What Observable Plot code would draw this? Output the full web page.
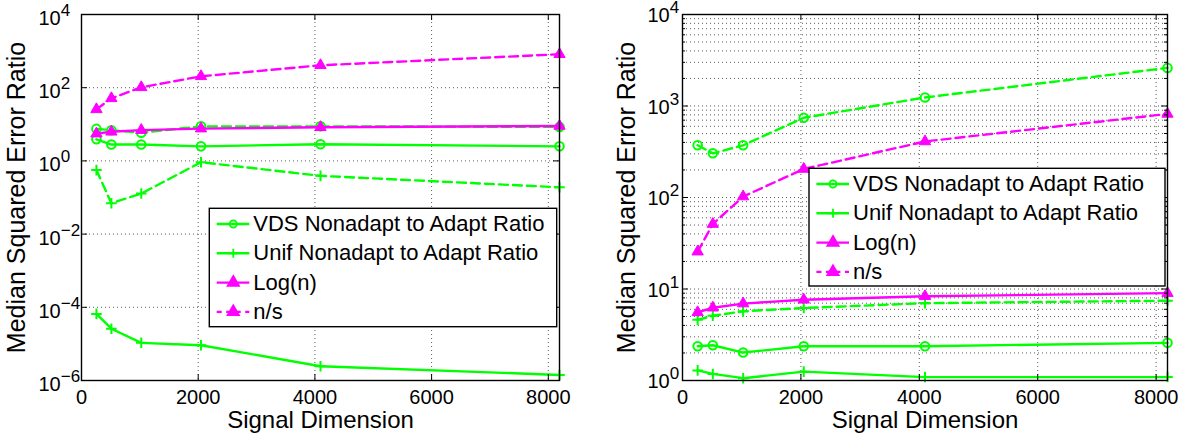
<!DOCTYPE html>
<html><head><meta charset="utf-8">
<script src="https://cdn.jsdelivr.net/npm/d3@7"></script>
<script src="https://cdn.jsdelivr.net/npm/@observablehq/plot@0.6"></script>
<style>
body{margin:0;background:#fff;}
#wrap{display:flex;width:1188px;height:434px;background:#fff;}
svg{overflow:visible}
</style></head><body><div id="wrap"></div>
<script>
// ---- data ----
const xs = [256, 512, 1024, 2048, 4096, 8192];
const logN = [5.55, 6.24, 6.93, 7.62, 8.32, 9.01];
const nOverS = [25.6, 51.2, 102.4, 204.8, 409.6, 819.2];
const leftVds = [3.9, 2.8, 2.8, 2.5, 2.85, 2.5];
const leftUnif = [6.6e-5, 2.6e-5, 1.07e-5, 9.2e-6, 2.45e-6, 1.42e-6];
const leftVdsDashed = [7.5, 6.9, 5.9, 8.8, 8.8, 8.5];
const leftUnifDashed = [0.56, 0.07, 0.128, 0.92, 0.39, 0.19];
const rightVds = [2.37, 2.43, 2.02, 2.37, 2.37, 2.58];
const rightUnif = [1.29, 1.18, 1.06, 1.25, 1.09, 1.09];
const rightVdsDashed = [372, 304, 372, 744, 1240, 2610];
const rightUnifDashed = [4.6, 5.1, 5.7, 6.2, 7.0, 7.45];
const xTicks = [0, 2000, 4000, 6000, 8000];
const leftYTicks = [1e-6, 1e-4, 1e-2, 1, 1e2, 1e4];
const rightYTicks = [1, 10, 100, 1000, 10000];
const rightMinorTicks = [1, 10, 100, 1000].flatMap(p => [2,3,4,5,6,7,8,9].map(k => k * p));
const legendLabels = ["VDS Nonadapt to Adapt Ratio", "Unif Nonadapt to Adapt Ratio", "Log(n)", "n/s"];
const xLabel = "Signal Dimension";
const yLabel = "Median Squared Error Ratio";

const GREEN = "#00ff00", MAGENTA = "#ff00ff";
const FONT = "'Liberation Sans', Arial, Helvetica, sans-serif";
const DASH = "9,5";
const styleOf = {
  vds:   {color: GREEN, symbol: "circle", dashed: false},
  unif:  {color: GREEN, symbol: "plus", dashed: false},
  logn:  {color: MAGENTA, symbol: "triangle", dashed: false},
  ns:    {color: MAGENTA, symbol: "triangle", dashed: true},
  vds2:  {color: GREEN, symbol: "circle", dashed: true},
  unif2: {color: GREEN, symbol: "plus", dashed: true}
};
const symR = {circle: 4.3, plus: 3.5, triangle: 4.2};

function seriesMarks(key, values) {
  const st = styleOf[key];
  const data = xs.map((x, i) => ({x, y: values[i]}));
  const marks = [Plot.line(data, {x: "x", y: "y", stroke: st.color, strokeWidth: 2.4,
    strokeDasharray: st.dashed ? DASH : null})];
  if (st.symbol === "triangle") {
    marks.push(Plot.dot(data, {x: "x", y: "y", symbol: "triangle", r: symR.triangle, fill: st.color, stroke: st.color, strokeWidth: 1}));
  } else if (st.symbol === "circle") {
    marks.push(Plot.dot(data, {x: "x", y: "y", symbol: "circle", r: symR.circle, fill: "none", stroke: st.color, strokeWidth: 2}));
  } else {
    marks.push(Plot.dot(data, {x: "x", y: "y", symbol: "plus", r: symR.plus, fill: "none", stroke: st.color, strokeWidth: 2}));
  }
  return marks;
}

function panel(cfg) {
  const W = 594, H = 434, mt = 14, mb = 54;
  const pw = W - cfg.ml - cfg.mr, ph = H - mt - mb;
  const gridStyle = {stroke: "#333", strokeOpacity: 0.8, strokeDasharray: "1,3", strokeWidth: 1};
  const marks = [
    Plot.gridX(xTicks.filter(d => d > 0), gridStyle),
    Plot.gridY(cfg.gridY, gridStyle),
    ...cfg.series.flatMap(([k, v]) => seriesMarks(k, v)),
    Plot.tickX(xTicks, {x: d => d, insetTop: ph - 6, stroke: "black"}),
    Plot.tickX(xTicks, {x: d => d, insetBottom: ph - 6, stroke: "black"}),
    Plot.tickY(cfg.yTicks, {y: d => d, insetRight: pw - 6, stroke: "black"}),
    Plot.tickY(cfg.yTicks, {y: d => d, insetLeft: pw - 6, stroke: "black"}),
  ];
  if (cfg.minor) {
    marks.push(Plot.tickY(cfg.minor, {y: d => d, insetRight: pw - 3, stroke: "black"}));
    marks.push(Plot.tickY(cfg.minor, {y: d => d, insetLeft: pw - 3, stroke: "black"}));
  }
  marks.push(
    Plot.frame({stroke: "black", strokeWidth: 1.4}),
    Plot.text(xTicks, {x: d => d, frameAnchor: "bottom", lineAnchor: "top", dy: 9, text: d => String(d), fontSize: 20, fill: "black"}),
    Plot.text(cfg.yTicks, {y: d => d, frameAnchor: "left", textAnchor: "start", dx: cfg.ytDx, dy: cfg.ytDy,
      text: d => "10^" + Math.round(Math.log10(d)), fontSize: 20, fill: "black"}),
    Plot.text([xLabel], {frameAnchor: "bottom", textAnchor: "middle", lineAnchor: "top", dy: 30, fontSize: 24, fill: "black"}),
    Plot.text([yLabel], {frameAnchor: "left", textAnchor: "middle", rotate: -90, lineAnchor: "top", dx: cfg.ylDx, fontSize: 25, fill: "black"})
  );
  const svg = Plot.plot({
    width: W, height: H, marginLeft: cfg.ml, marginRight: cfg.mr, marginTop: mt, marginBottom: mb,
    style: {fontFamily: FONT, fontSize: "20px", background: "white", color: "black"},
    x: {domain: [0, 8192], axis: null},
    y: {type: "log", domain: cfg.yDomain, axis: null},
    marks
  });
  // superscript exponents
  d3.select(svg).selectAll("text").each(function() {
    const m = this.textContent.match(/^10\^(-?\d+)$/);
    if (!m) return;
    this.textContent = "";
    const t = d3.select(this);
    t.append("tspan").text("10");
    t.append("tspan").attr("dy", -9).attr("font-size", 17).text(m[1].replace("-", "\u2212"));
  });
  // legend
  const L = cfg.legend;
  const g = d3.select(svg).append("g").attr("font-family", FONT).attr("font-size", 22).attr("text-anchor", "start");
  g.append("rect").attr("x", L.x).attr("y", L.y).attr("width", L.w).attr("height", L.h)
    .attr("fill", "white").attr("stroke", "black").attr("stroke-width", 1.4);
  ["vds", "unif", "logn", "ns"].forEach((k, i) => {
    const st = styleOf[k];
    const cy = L.y + 15.7 + i * 29.3;
    g.append("line").attr("x1", L.x + 7.4).attr("x2", L.x + 40).attr("y1", cy).attr("y2", cy)
      .attr("stroke", st.color).attr("stroke-width", 2.4).attr("stroke-dasharray", st.dashed ? "5,4.5" : null);
    const sym = st.symbol === "circle" ? d3.symbolCircle : st.symbol === "plus" ? d3.symbolPlus : d3.symbolTriangle;
    const r = st.symbol === "circle" ? 3.6 : st.symbol === "plus" ? 3.0 : 4.2;
    g.append("path").attr("d", d3.symbol(sym, Math.PI * r * r)())
      .attr("transform", `translate(${L.x + 24},${cy})`)
      .attr("fill", st.symbol === "triangle" ? st.color : "none")
      .attr("stroke", st.color).attr("stroke-width", 1.8);
    g.append("text").attr("x", L.x + 44).attr("y", cy).attr("dy", "0.32em").attr("text-anchor", "start")
      .attr("fill", "black").text(legendLabels[i]);
  });
  return svg;
}

const wrap = document.getElementById("wrap");
wrap.appendChild(panel({
  ml: 81, mr: 35, yDomain: [1e-6, 1e4], yTicks: leftYTicks, gridY: [1e-4, 1e-2, 1, 1e2],
  ytDx: -43, ytDy: 4, ylDx: -74,
  series: [["vds2", leftVdsDashed], ["unif2", leftUnifDashed], ["vds", leftVds], ["unif", leftUnif], ["logn", logN], ["ns", nOverS]],
  legend: {x: 209.3, y: 208.3, w: 347.4, h: 118.4}
}));
wrap.appendChild(panel({
  ml: 88, mr: 21, yDomain: [1, 1e4], yTicks: rightYTicks, gridY: [...rightMinorTicks, 10, 100, 1000], minor: rightMinorTicks,
  ytDx: -35, ytDy: 1.5, ylDx: -65,
  series: [["vds2", rightVdsDashed], ["unif2", rightUnifDashed], ["vds", rightVds], ["unif", rightUnif], ["logn", logN], ["ns", nOverS]],
  legend: {x: 215, y: 168.3, w: 356, h: 117.7}
}));
</script></body></html>
